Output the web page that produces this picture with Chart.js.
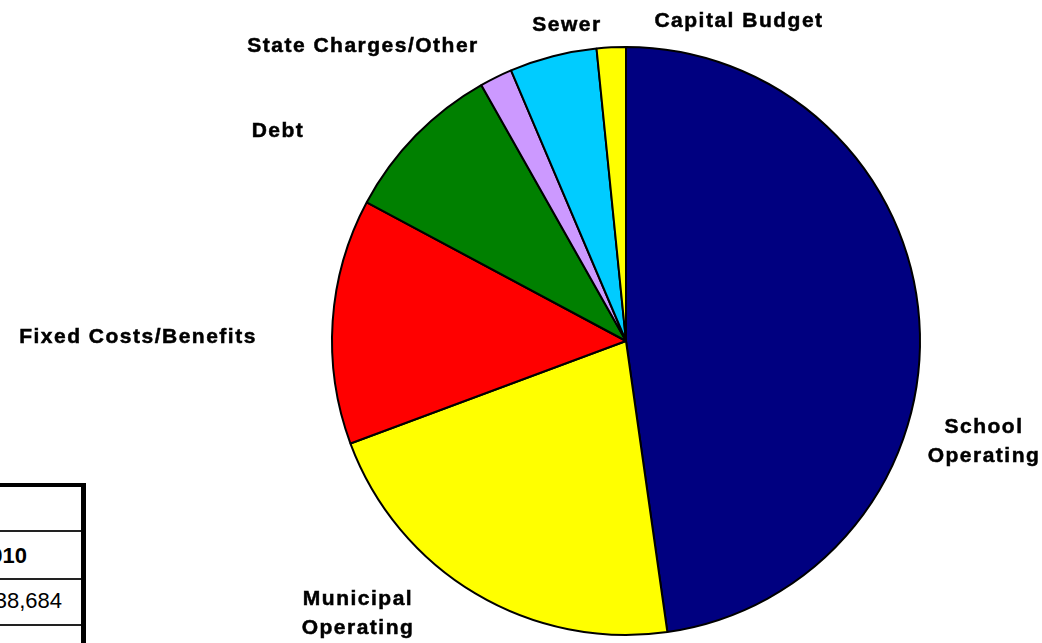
<!DOCTYPE html>
<html>
<head>
<meta charset="utf-8">
<script src="https://cdn.jsdelivr.net/npm/chart.js@4.4.0/dist/chart.umd.min.js"></script>
<style>
  body { margin: 0; background: #fff; overflow: hidden; }
  #wrap { position: relative; width: 1042px; height: 643px; overflow: hidden; }
  #tbl {
    position: absolute; left: -214px; top: 483px; width: 295px; height: 300px;
    border-top: 4px solid #000; border-right: 5px solid #000; background: #fff;
    font-family: "Liberation Sans", Arial, sans-serif; font-size: 22px;
  }
  #tbl .row { border-bottom: 2px solid #222; position: relative; }
  #tbl .row span { position: absolute; white-space: nowrap; }
</style>
</head>
<body>
<div id="wrap">
  <canvas id="myChart"></canvas>
  <div id="tbl">
    <div class="row" style="height:43px;"></div>
    <div class="row" style="height:46px;"><span style="right:54px;top:11px;font-weight:bold;">2010</span></div>
    <div class="row" style="height:44px;"><span style="right:19px;top:8px;">$1,138,684</span></div>
    <div class="row" style="height:44px;"></div>
  </div>
</div>
<script>
var categorias = ['School Operating', 'Municipal Operating', 'Fixed Costs/Benefits', 'Debt', 'State Charges/Other', 'Sewer', 'Capital Budget'];
var valores = [47.8, 21.6, 13.5, 9.0, 1.8, 4.8, 1.6];
var colores = ['#000080', '#FFFF00', '#FF0000', '#008000', '#CC99FF', '#00CCFF', '#FFFF00'];

// label text lines and where they sit (baseline offset from pie center)
var etiquetas = [['School', 'Operating'], ['Municipal', 'Operating'], ['Fixed Costs/Benefits'], ['Debt'], ['State Charges/Other'], ['Sewer'], ['Capital Budget']];
var posEtiquetas = [[357, 92], [-269, 264], [-489, 2], [-349, -204], [-264, -289], [-60, -310], [112, -314]];

var etiquetasPlugin = {
    id: 'etiquetas',
    afterDraw: function(chart){
        var arc = chart.getDatasetMeta(0).data[0];
        var cx = arc.x, cy = arc.y;
        var ctx = chart.ctx;
        ctx.save();
        ctx.font = 'bold 21px "Liberation Sans", Arial, sans-serif';
        ctx.letterSpacing = '1.5px';
        ctx.fillStyle = '#000';
        ctx.strokeStyle = '#000';
        ctx.lineWidth = 0.5;
        ctx.textAlign = 'center';
        ctx.textBaseline = 'alphabetic';
        for (var i = 0; i < etiquetas.length; i++) {
            var lineas = etiquetas[i];
            for (var j = 0; j < lineas.length; j++) {
                var x = cx + posEtiquetas[i][0] + 1, y = cy + posEtiquetas[i][1] + j * 29;
                ctx.fillText(lineas[j], x, y);
                ctx.strokeText(lineas[j], x, y);
            }
        }
        ctx.restore();
    }
};

function generarGrafico(){
    var ctx = document.getElementById('myChart').getContext('2d');
    var myChart = new Chart(ctx, {
        type: 'pie',
        data: {
            labels: categorias,
            datasets: [{
                data: valores,
                backgroundColor: colores,
                borderColor: '#000',
                borderWidth: 2,
                borderAlign: 'center'
            }]
        },
        options: {
            responsive: false,
            animation: false,
            layout: { padding: { left: 331, right: 121, top: 46, bottom: 7 } },
            plugins: {
                legend: { display: false },
                tooltip: { enabled: false }
            }
        },
        plugins: [etiquetasPlugin]
    });
}

var cv = document.getElementById('myChart');
cv.width = 1042;
cv.height = 643;
generarGrafico();
</script>
</body>
</html>
